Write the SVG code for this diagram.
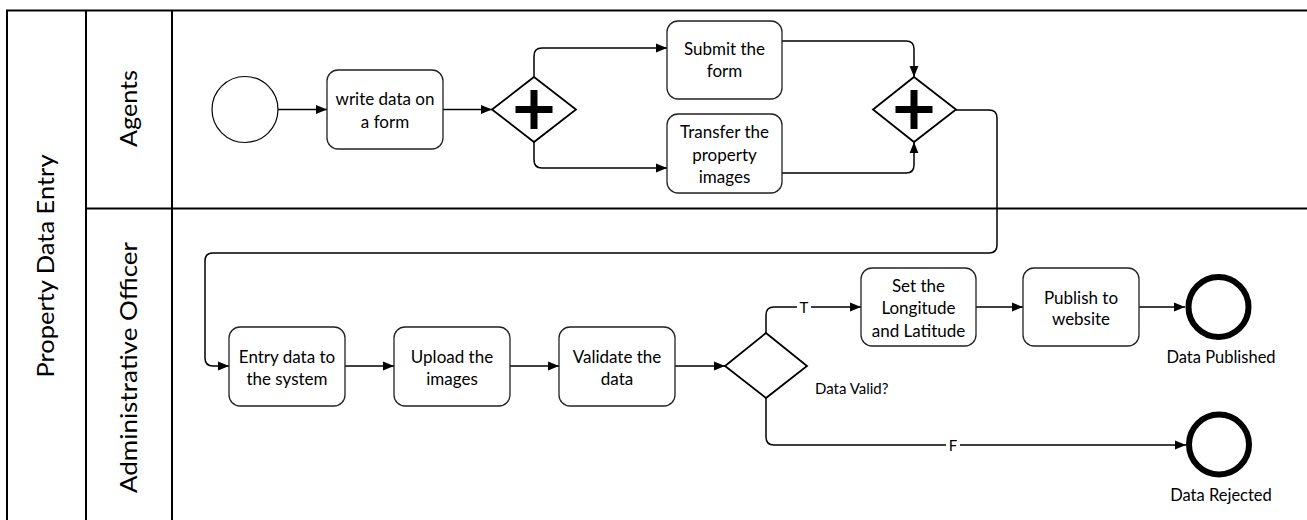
<svg xmlns="http://www.w3.org/2000/svg" width="1307" height="520" viewBox="0 0 1307 520">
<style>
.lane{fill:none;stroke:#000;stroke-width:2}
.task{fill:#fff;stroke:#222;stroke-width:1.3}
.gw{fill:#fff;stroke:#000;stroke-width:1.8}
.plus{fill:#000}
.t{font-family:Lato,"Liberation Sans",sans-serif;font-size:17px;fill:#000;text-anchor:middle}
.lbl{font-family:Lato,"Liberation Sans",sans-serif;font-size:15px;fill:#000}
.elbl{font-family:Lato,"Liberation Sans",sans-serif;font-size:16.5px;fill:#000;text-anchor:middle}
.hdr{font-family:Lato,"Liberation Sans",sans-serif;font-size:24px;fill:#000;text-anchor:middle}
.edge{fill:none;stroke:#000;stroke-width:1.5;marker-end:url(#arr)}
.start{fill:#fff;stroke:#000;stroke-width:1.2}
.end{fill:#fff;stroke:#000;stroke-width:6}
</style>
<defs>
<marker id="arr" viewBox="0 0 10 10" refX="10" refY="5" markerWidth="11" markerHeight="11" markerUnits="userSpaceOnUse" orient="auto">
<path d="M0,1 L10,5 L0,9 Z" fill="#000"/>
</marker>
</defs>
<rect width="1307" height="520" fill="#fff"/>
<g id="pool">
<path class="lane" d="M7,530 V10.5 H1310 M86,10.5 V530 M172,10.5 V530 M86,208.5 H1310"/>
<text class="hdr" transform="translate(54,266) rotate(-90)" textLength="223" lengthAdjust="spacingAndGlyphs">Property Data Entry</text>
</g>
<g id="lane-agents"><text class="hdr" transform="translate(137,108.5) rotate(-90)" textLength="77" lengthAdjust="spacingAndGlyphs">Agents</text></g>
<g id="lane-officer"><text class="hdr" transform="translate(137,367.5) rotate(-90)" textLength="251" lengthAdjust="spacingAndGlyphs">Administrative Officer</text></g>

<g id="connectors">
<path class="edge" d="M278,109.5 H327"/>
<path class="edge" d="M443,109.5 H492"/>
<path class="edge" d="M534,77 V56 Q534,48 542,48 H667"/>
<path class="edge" d="M534,142 V160 Q534,168 542,168 H667"/>
<path class="edge" d="M782,41 H906 Q914,41 914,49 V77"/>
<path class="edge" d="M782,173 H906 Q914,173 914,165 V142"/>
<path class="edge" d="M956,110 H989 Q997,110 997,118 V245 Q997,253 989,253 H213 Q205,253 205,261 V358 Q205,366 213,366 H229"/>
<path class="edge" d="M345,366 H394"/>
<path class="edge" d="M510,366 H559"/>
<path class="edge" d="M675,366 H725"/>
<path class="edge" d="M766,333 V315 Q766,307 774,307 H861"/>
<path class="edge" d="M976,307 H1023"/>
<path class="edge" d="M1139,307 H1185"/>
<path class="edge" d="M766,398 V437 Q766,445 774,445 H1186"/>
<rect x="797" y="298" width="14" height="18" fill="#fff"/>
<text class="lbl" x="804" y="312.5" text-anchor="middle">T</text>
<rect x="946" y="436" width="14" height="18" fill="#fff"/>
<text class="lbl" x="953" y="450.5" text-anchor="middle">F</text>
</g>

<g id="start"><circle class="start" cx="245" cy="109.5" r="33"/></g>
<g id="task-write"><rect class="task" x="327" y="70" width="116" height="79" rx="11"/>
<text class="t" x="385" y="105">write data on</text><text class="t" x="385" y="128">a form</text></g>
<g id="gw1"><path class="gw" d="M534,77 L576,109.5 L534,142 L492,109.5 Z"/>
<path class="plus" d="M530.5,90 h7 v16 h15 v7 h-15 v16 h-7 v-16 h-15 v-7 h15 Z"/></g>
<g id="task-submit"><rect class="task" x="667" y="21" width="115" height="78" rx="11"/>
<text class="t" x="724.5" y="55">Submit the</text><text class="t" x="724.5" y="77">form</text></g>
<g id="task-transfer"><rect class="task" x="667" y="114" width="115" height="79" rx="11"/>
<text class="t" x="724.5" y="138">Transfer the</text><text class="t" x="724.5" y="161">property</text><text class="t" x="724.5" y="183">images</text></g>
<g id="gw2"><path class="gw" d="M914,77 L956,109.5 L914,142 L873,109.5 Z"/>
<path class="plus" d="M910.5,90 h7 v16 h15 v7 h-15 v16 h-7 v-16 h-15 v-7 h15 Z"/></g>
<g id="task-entry"><rect class="task" x="229" y="327" width="116" height="79" rx="11"/>
<text class="t" x="287" y="363">Entry data to</text><text class="t" x="287" y="385">the system</text></g>
<g id="task-upload"><rect class="task" x="394" y="327" width="116" height="79" rx="11"/>
<text class="t" x="452" y="363">Upload the</text><text class="t" x="452" y="385">images</text></g>
<g id="task-validate"><rect class="task" x="559" y="327" width="116" height="79" rx="11"/>
<text class="t" x="617" y="363">Validate the</text><text class="t" x="617" y="385">data</text></g>
<g id="gw3"><path class="gw" d="M766,333 L807,366 L766,398 L725,366 Z"/>
<text class="lbl" x="815" y="394">Data Valid?</text></g>
<g id="task-set"><rect class="task" x="861" y="268" width="115" height="78" rx="11"/>
<text class="t" x="918.5" y="292">Set the</text><text class="t" x="918.5" y="314">Longitude</text><text class="t" x="918.5" y="337">and Latitude</text></g>
<g id="task-publish"><rect class="task" x="1023" y="268" width="116" height="78" rx="11"/>
<text class="t" x="1081" y="304">Publish to</text><text class="t" x="1081" y="325">website</text></g>
<g id="end-published"><circle class="end" cx="1218.5" cy="307" r="30"/>
<text class="elbl" x="1221" y="363">Data Published</text></g>
<g id="end-rejected"><circle class="end" cx="1219" cy="444.5" r="30"/>
<text class="elbl" x="1221" y="501">Data Rejected</text></g>
</svg>
